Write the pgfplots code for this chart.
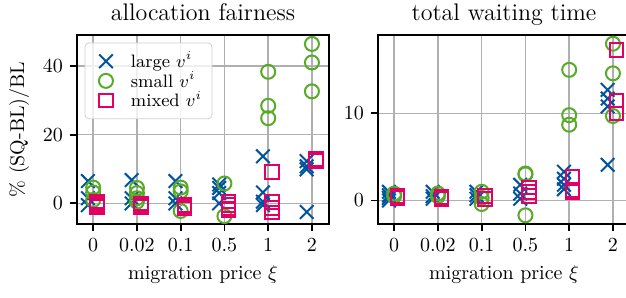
\documentclass[border=0pt]{standalone}
\usepackage{pgfplots}
\usepackage{pgfplotstable}
\pgfplotsset{compat=1.18}
\definecolor{cblue}{HTML}{00549F}
\definecolor{cgreen}{HTML}{57AB27}
\definecolor{cpink}{HTML}{E30066}
\definecolor{cgrid}{HTML}{B0B0B0}

% allocation fairness
\pgfplotstableread{
c v
0 6.5
0 1.5
0 -0.5
1 6.8
1 1.5
1 0
2 6.5
2 1.5
2 0
3 5.5
3 4.5
3 3
3 0
4 13.7
4 3.2
4 0.5
4 -0.5
5 12.3
5 10.8
5 9.9
5 -2.5
}\fairL
\pgfplotstableread{
c v
0 4.6
0 3.2
0 1.0
1 4.5
1 3.0
1 1.5
1 0.5
2 4.6
2 3.5
2 -2.2
3 5.8
3 -3.7
4 38.3
4 28.4
4 24.8
5 46.4
5 41.0
5 32.6
}\fairS
\pgfplotstableread{
c v
0 0.5
0 0
0 -0.5
0 -1
1 0
1 -0.5
1 -1
2 -0.5
2 -1
2 -1.5
3 0.5
3 -0.5
3 -1.5
3 -2
4 9.1
4 0.4
4 -1.3
4 -2.6
5 13.0
5 12.3
}\fairM

% total waiting time
\pgfplotstableread{
c v
0 1.0
0 0.6
0 0.3
0 0.0
1 1.0
1 0.5
1 0.2
2 1.0
2 0.6
2 0.2
3 1.8
3 0.8
3 0.2
4 3.3
4 2.5
4 1.8
4 1.3
5 12.7
5 11.7
5 10.8
5 4.1
}\waitL
\pgfplotstableread{
c v
0 0.8
0 0.5
1 0.8
1 0.5
2 1.0
2 0.3
2 -0.4
3 3.1
3 3.0
3 -1.7
4 15.0
4 9.8
4 8.7
5 18.0
5 14.6
5 9.7
}\waitS
\pgfplotstableread{
c v
0 0.5
0 0.3
1 0.4
1 0.2
2 0.5
2 0.2
3 1.5
3 1.0
3 0.5
4 2.7
4 1.2
4 1.0
5 17.3
5 11.5
5 10.0
}\waitM

\pgfplotsset{
  myax/.style={
    scale only axis,
    width=126pt, height=94.5pt,
    xmin=-0.37, xmax=5.39,
    xtick={0,1,2,3,4,5},
    xticklabels={0,0.02,0.1,0.5,1,2},
    grid=major,
    major grid style={draw=cgrid, line width=0.8pt},
    axis line style={line width=0.9pt},
    tick style={black, line width=0.9pt},
    tick align=outside,
    major tick length=3.5pt,
    xtick pos=bottom, ytick pos=left,
    xlabel={migration price $\xi$},
    title style={font=\large, at={(0.5,1)}, anchor=base, yshift=1.5pt},
    every axis plot/.append style={only marks, line width=1pt},
  },
  ml/.style={cblue, mark=x, mark size=4.8pt},
  ms/.style={cgreen, mark=o, mark size=3.5pt},
  mm/.style={cpink, mark=square, mark size=3.4pt},
}

\begin{document}
\begin{tikzpicture}
\begin{axis}[myax, at={(38.5pt,36.5pt)}, anchor=south west,
  ymin=-6, ymax=49, ytick={0,20,40},
  title={allocation fairness},
  ylabel={\% (SQ-BL)/BL},
  legend cell align=left,
  legend image code/.code={\path[draw=none, fill=none] (0pt,-1pt) rectangle (18pt,1pt);
    \draw[mark repeat=2, mark phase=2, #1, only marks] plot coordinates {(0pt,0pt) (7.5pt,0pt) (15pt,0pt)};},
  legend style={at={(0.03,0.96)}, anchor=north west, draw=cgrid!60, rounded corners=2pt,
    fill=white, fill opacity=0.8, text opacity=1, draw opacity=1, font=\small,
    row sep=-3.5pt, inner xsep=3pt, inner ysep=2.5pt},
]
\addplot+[ml] table[x expr=\thisrow{c}-0.12, y=v] {\fairL};
\addlegendentry{large $v^i$}
\addplot+[ms] table[x expr=\thisrow{c}, y=v] {\fairS};
\addlegendentry{small $v^i$}
\addplot+[mm] table[x expr=\thisrow{c}+0.09, y=v] {\fairM};
\addlegendentry{mixed $v^i$}
\end{axis}
\begin{axis}[myax, at={(189pt,36.5pt)}, anchor=south west,
  ymin=-2.7, ymax=19, ytick={0,10},
  title={total waiting time},
]
\addplot+[ml] table[x expr=\thisrow{c}-0.12, y=v] {\waitL};
\addplot+[ms] table[x expr=\thisrow{c}, y=v] {\waitS};
\addplot+[mm] table[x expr=\thisrow{c}+0.08, y=v] {\waitM};
\end{axis}
\pgfresetboundingbox
\path[use as bounding box] (0,0) rectangle (313pt,148.5pt);
\end{tikzpicture}
\end{document}
